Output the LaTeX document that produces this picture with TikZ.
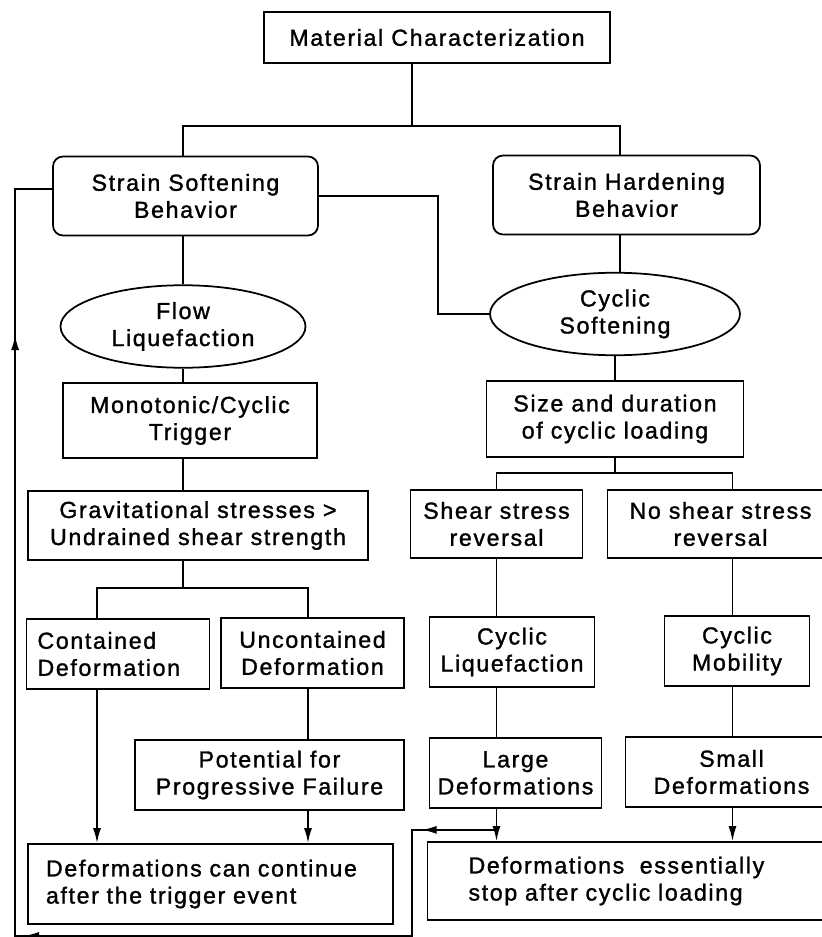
\documentclass[tikz,border=0pt]{standalone}
\usepackage{fontspec}
\setmainfont{Liberation Sans}[LetterSpace=7, FakeBold=1.3]
\usepackage{tikz}
\usetikzlibrary{shapes.geometric, arrows.meta}

\tikzstyle{block} = [rectangle, draw=black, line width=1pt, minimum height=1.4cm, text centered, align=center, inner sep=2pt, font=\fontsize{13.2}{15.4}\selectfont]
\tikzstyle{rblock} = [block, rounded corners=0.2cm, minimum height=1.58cm]
\tikzstyle{oval} = [block, ellipse, inner sep=0pt, minimum height=1.65cm]
\tikzstyle{lblock} = [block, align=left]
\tikzstyle{line} = [line width=1pt]
\tikzstyle{arrow} = [line width=1pt, -{Latex[length=3mm,width=1.6mm]}]

\begin{document}
\begin{tikzpicture}[node distance=2cm]
\useasboundingbox (-8.74,0.75) rectangle (7.68,-17.99);

% Nodi principali
\node (mat) [block, minimum width=6.92cm, minimum height=1.02cm] {Material Characterization};
\node (soft) [rblock, below of=mat, xshift=-5.03cm, yshift=-1.17cm, minimum width=5.3cm] {Strain Softening\\Behavior};
\node (hard) [rblock, below of=mat, xshift=3.79cm, yshift=-1.15cm, minimum width=5.34cm] {Strain Hardening\\Behavior};
\node (flow) [oval, below of=soft, xshift=-0.05cm, yshift=-0.61cm, minimum width=4.9cm] {Flow\\Liquefaction};
\node (cycsoft) [oval, below of=hard, xshift=-0.23cm, yshift=-0.38cm, minimum width=5cm] {Cyclic\\Softening};
\node (trig) [block, below of=flow, xshift=0.14cm, yshift=0.12cm, minimum width=5.08cm, minimum height=1.5cm] {Monotonic/Cyclic\\Trigger};
\node (size) [block, below of=cycsoft, yshift=-0.1cm, minimum width=5.14cm, minimum height=1.52cm] {Size and duration\\of cyclic loading};
\node (grav) [block, below of=trig, xshift=0.16cm, yshift=-0.1cm, minimum width=6.8cm, minimum height=1.38cm] {Gravitational stresses >\\Undrained shear strength};
\node (shear) [block, below of=size, xshift=-2.37cm, yshift=-0.1cm, minimum width=3.44cm, minimum height=1.36cm] {Shear stress\\reversal};
\node (noshear) [block, below of=size, xshift=2.11cm, yshift=-0.1cm, minimum width=4.52cm, minimum height=1.36cm] {No shear stress\\reversal};
\node (contained) [lblock, below of=grav, xshift=-1.6cm, yshift=-0.57cm, text width=3.22cm, inner xsep=0.22cm] {Contained\\Deformation};
\node (uncont) [block, below of=grav, xshift=2.29cm, yshift=-0.55cm, minimum width=3.66cm] {Uncontained\\Deformation};
\node (cycliq) [block, below of=shear, xshift=0.31cm, yshift=-0.56cm, minimum width=3.3cm] {Cyclic\\Liquefaction};
\node (cycmob) [block, below of=noshear, xshift=0.33cm, yshift=-0.54cm, minimum width=2.9cm] {Cyclic\\Mobility};
\node (potential) [block, below of=uncont, xshift=-0.86cm, yshift=-0.44cm, minimum width=5.38cm] {Potential for\\Progressive Failure};
\node (large) [block, below of=cycliq, xshift=0.07cm, yshift=-0.42cm, minimum width=3.44cm] {Large\\Deformations};
\node (small) [block, below of=cycmob, xshift=-0.11cm, yshift=-0.42cm, minimum width=4.24cm] {Small\\Deformations};
\node (cont) [lblock, below of=potential, xshift=-1.18cm, yshift=-0.18cm, text width=6.58cm, inner xsep=0.36cm, minimum height=1.6cm] {Deformations can continue\\after the trigger event};
\node (stop) [lblock, below of=large, xshift=2.37cm, yshift=-0.16cm, text width=6.62cm, inner xsep=0.82cm, minimum height=1.56cm] {Deformations~ essentially\\stop after cyclic loading};

% Punti di appoggio
\coordinate (lx) at (flow.center);
\coordinate (hx) at ([xshift=-0.13cm]hard.south);
\coordinate (rx) at ([xshift=0.24cm]noshear.south);
\coordinate (cx) at ([xshift=-0.42cm]contained.south);
\coordinate (ux) at ([xshift=-0.09cm]uncont.south);
\path (shear.south |- large.south) ++(0,-0.42) coordinate (j1);
\path (j1 -| stop.west) ++(-0.3,0) coordinate (c1);
\path (c1 |- cont.south) ++(0,-0.22) coordinate (c2);
\path (c2 -| soft.west) ++(-0.74,0) coordinate (c3);
\path (c3 |- flow.center) ++(0,-0.17) coordinate (c4);
\path (soft.west) ++(0,0.14) coordinate (sw);

% Linee
\draw [line] ([xshift=-0.5cm]mat.south) -- ++(0,-1.24) -| (lx |- soft.north);
\draw [line] ([xshift=-0.5cm]mat.south) -- ++(0,-1.24) -| (hx |- hard.north);
\draw [line] (soft.east) -- ++(2.38,0) |- (cycsoft.west);
\draw [line] (lx |- soft.south) -- (flow.north);
\draw [line] (hx) -- (hx |- cycsoft.north);
\draw [line] (flow.south) -- (lx |- trig.north);
\draw [line] (cycsoft.south) -- (size.north);
\draw [line] (lx |- trig.south) -- (lx |- grav.north);
\draw [line] (lx |- grav.south) -- ++(0,-0.54) -| (cx |- contained.north);
\draw [line] (lx |- grav.south) -- ++(0,-0.54) -| (ux |- uncont.north);
\draw [line] (size.south) -- ++(0,-0.3) -| (shear.north);
\draw [line] (size.south) -- ++(0,-0.3) -| (rx |- noshear.north);
\draw [line] (shear.south) -- (shear.south |- cycliq.north);
\draw [line] (rx) -- (rx |- cycmob.north);
\draw [line] (ux |- uncont.south) -- (ux |- potential.north);
\draw [line] (shear.south |- cycliq.south) -- (shear.south |- large.north);
\draw [line] (rx |- cycmob.south) -- (rx |- small.north);

% Frecce
\draw [arrow] (cx) -- (cx |- cont.north);
\draw [arrow] (ux |- potential.south) -- (ux |- cont.north);
\draw [arrow] (shear.south |- large.south) -- (shear.south |- stop.north);
\draw [arrow] (rx |- small.south) -- (rx |- stop.north);

% Ritorno
\draw [line] (j1) -- (c1) -- (c2) -- (c3) -- (c3 |- sw) -- (sw);
\draw [arrow] (j1) -- ([xshift=0.2cm]c1);
\draw [arrow] (c2) -- ([xshift=0.18cm]c3);
\draw [arrow] (c3) -- (c4);
\end{tikzpicture}
\end{document}
